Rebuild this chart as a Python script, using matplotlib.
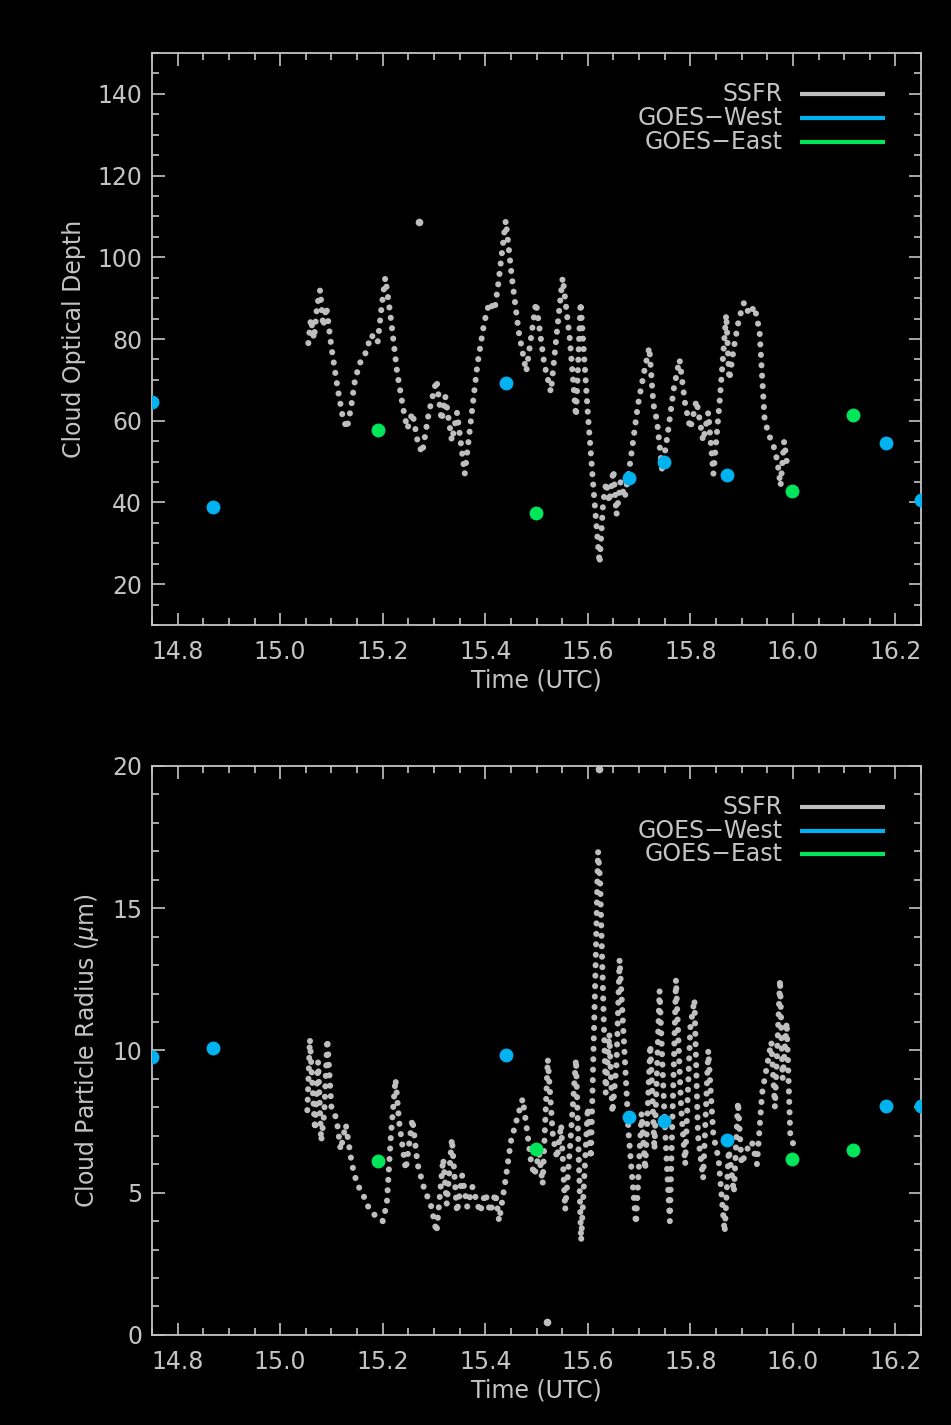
import numpy as np
import matplotlib
matplotlib.use('Agg')
import matplotlib.pyplot as plt
from matplotlib.ticker import MultipleLocator, FormatStrFormatter

# SSFR 光学厚度 (转折点, 时间 UTC 小时)
ssfr_time_tau = [15.055, 15.060, 15.066, 15.072, 15.078, 15.084, 15.090, 15.100, 15.112, 15.122,
                 15.130, 15.138, 15.146, 15.155, 15.165, 15.178, 15.190, 15.198, 15.205, 15.215,
                 15.228, 15.240, 15.248, 15.258, 15.268, 15.277, 15.290, 15.305, 15.315, 15.322,
                 15.335, 15.345, 15.360, 15.372, 15.385, 15.398, 15.408, 15.418, 15.425, 15.440,
                 15.452, 15.465, 15.480, 15.499, 15.515, 15.528, 15.540, 15.551, 15.565, 15.577,
                 15.586, 15.600, 15.612, 15.623, 15.630, 15.636, 15.642, 15.650, 15.656, 15.664,
                 15.672, 15.683, 15.698, 15.710, 15.720, 15.728, 15.735, 15.745, 15.755, 15.768,
                 15.779, 15.790, 15.800, 15.812, 15.825, 15.835, 15.845, 15.858, 15.870, 15.876,
                 15.885, 15.895, 15.905, 15.915, 15.925, 15.935, 15.945, 15.955, 15.962, 15.970,
                 15.976, 15.983, 15.990]
ssfr_tau = [79, 85, 80, 88, 92, 83, 88, 78, 68, 61,
            58, 63, 70, 74, 76, 81, 79, 88, 95, 86,
            72, 63, 58, 62, 55, 52, 62, 70, 60, 66,
            55, 62, 47, 60, 74, 84, 89, 87, 93, 109,
            95, 82, 72, 89, 74, 67, 82, 95, 80, 61,
            89, 62, 42, 25, 40, 45, 40, 48, 37, 45,
            41, 50, 64, 72, 78, 64, 60, 48, 56, 68,
            75, 64, 58, 65, 55, 62, 47, 66, 86, 70,
            78, 85, 89, 86, 88, 82, 60, 56, 54, 50,
            44, 55, 48]
ssfr_out_time_tau = [15.271]
ssfr_out_tau = [108.6]

# SSFR 粒子半径
ssfr_time_reff = [15.053, 15.058, 15.063, 15.068, 15.074, 15.080, 15.086, 15.092, 15.100, 15.110,
                  15.118, 15.128, 15.140, 15.150, 15.160, 15.172, 15.185, 15.200, 15.208, 15.216,
                  15.225, 15.232, 15.245, 15.258, 15.268, 15.280, 15.295, 15.305, 15.312, 15.318,
                  15.325, 15.335, 15.345, 15.355, 15.365, 15.375, 15.390, 15.400, 15.410, 15.420,
                  15.427, 15.440, 15.450, 15.462, 15.473, 15.480, 15.490, 15.496, 15.505, 15.512,
                  15.522, 15.532, 15.540, 15.548, 15.556, 15.565, 15.577, 15.587, 15.600, 15.606,
                  15.615, 15.620, 15.624, 15.628, 15.635, 15.642, 15.648, 15.656, 15.662, 15.670,
                  15.680, 15.694, 15.705, 15.712, 15.722, 15.730, 15.740, 15.750, 15.760, 15.772,
                  15.782, 15.790, 15.800, 15.808, 15.815, 15.825, 15.835, 15.845, 15.855, 15.867,
                  15.875, 15.885, 15.893, 15.900, 15.910, 15.920, 15.930, 15.940, 15.950, 15.958,
                  15.965, 15.975, 15.980, 15.988, 15.995, 16.005]
ssfr_reff = [7.9, 10.4, 8.8, 7.2, 9.6, 6.8, 7.8, 10.4, 8.0, 7.6,
             6.5, 7.4, 6.0, 5.3, 5.0, 4.5, 4.2, 4.0, 4.6, 7.0,
             9.0, 7.5, 5.8, 7.6, 6.0, 5.2, 4.5, 3.6, 5.0, 6.2,
             4.6, 6.9, 4.3, 5.6, 4.5, 5.2, 4.3, 5.0, 4.3, 5.0,
             4.0, 5.5, 6.8, 7.6, 8.3, 7.4, 6.0, 5.6, 6.4, 5.3,
             9.7, 7.0, 6.2, 7.4, 4.4, 6.5, 9.7, 3.3, 8.0, 6.2,
             12.8, 17.0, 16.0, 13.2, 8.5, 10.6, 7.8, 9.5, 13.2, 10.5,
             7.0, 3.9, 7.8, 5.8, 10.2, 6.5, 12.1, 7.5, 4.0, 12.5,
             8.0, 6.0, 10.8, 11.8, 7.0, 5.5, 10.0, 7.0, 6.2, 3.6,
             6.5, 5.0, 8.2, 6.0, 6.5, 6.8, 6.0, 8.5, 9.5, 10.3,
             8.0, 12.5, 9.0, 11.0, 7.0, 6.5]
ssfr_out_time_reff = [15.622, 15.520]
ssfr_out_reff = [19.9, 0.46]

# GOES 卫星反演
goes_w_time = [14.750, 14.869, 15.440, 15.680, 15.749, 15.872, 16.181, 16.250]
goes_w_tau = [64.7, 39.0, 69.3, 46.1, 50.0, 46.6, 54.6, 40.5]
goes_w_reff = [9.77, 10.09, 9.84, 7.66, 7.52, 6.85, 8.05, 8.05]
goes_e_time = [15.190, 15.499, 15.999, 16.118]
goes_e_tau = [57.8, 37.5, 42.9, 61.5]
goes_e_reff = [6.12, 6.54, 6.19, 6.50]

legend_names = ['SSFR', 'GOES\u2212West', 'GOES\u2212East']

plt.rcParams['font.family'] = ['DejaVu Sans']
plt.rcParams['mathtext.fontset'] = 'dejavusans'

fg = '#c4c4c4'
c_ssfr = '#bebebe'
c_west = '#00b2f0'
c_east = '#00e65a'
fsize = 17


def panel(ax, t, v, t_out, v_out, w, e, ylim, ymaj, ymin, ylabel):

    # SSFR 点列 (虚线样式画成圆点)
    ax.plot(t, v, color=c_ssfr, lw=4.4, linestyle=(0, (0.01, 1.7)),
            dash_capstyle='round', zorder=2)
    ax.plot(t_out, v_out, 'o', color=c_ssfr, ms=5.5, mew=0, zorder=2)

    # GOES
    ax.plot(goes_w_time, w, 'o', color=c_west, ms=10, mew=0, zorder=3)
    ax.plot(goes_e_time, e, 'o', color=c_east, ms=10, mew=0, zorder=3)

    ax.set_xlim(14.75, 16.25)
    ax.set_ylim(*ylim)
    ax.set_facecolor('black')

    ax.xaxis.set_major_locator(MultipleLocator(0.2))
    ax.xaxis.set_minor_locator(MultipleLocator(0.05))
    ax.xaxis.set_major_formatter(FormatStrFormatter('%.1f'))
    ax.yaxis.set_major_locator(MultipleLocator(ymaj))
    ax.yaxis.set_minor_locator(MultipleLocator(ymin))

    ax.tick_params(which='both', direction='in', top=True, right=True,
                   colors=fg, labelsize=fsize, width=1.2)
    ax.tick_params(which='major', length=9)
    ax.tick_params(which='minor', length=5)
    ax.tick_params(axis='x', pad=11)
    ax.tick_params(axis='y', pad=7)
    for s in ax.spines.values():
        s.set_color(fg)
        s.set_linewidth(1.3)

    ax.set_xlabel('Time (UTC)', color=fg, fontsize=fsize, labelpad=3)
    ax.set_ylabel(ylabel, color=fg, fontsize=fsize, labelpad=8)

    # 图例: 文字右对齐, 线段在右
    rows = [0.928, 0.886, 0.845]
    for name, col, y in zip(legend_names, [c_ssfr, c_west, c_east], rows):
        ax.text(0.82, y, name, transform=ax.transAxes, ha='right', va='center',
                color=fg, fontsize=fsize)
        ax.plot([0.843, 0.953], [y, y], transform=ax.transAxes, color=col, lw=3,
                solid_capstyle='butt')


fig = plt.figure(figsize=(9.51, 14.25), dpi=100, facecolor='black')

ax1 = fig.add_axes([0.1598, 0.5614, 0.8087, 0.4014])
panel(ax1, ssfr_time_tau, ssfr_tau, ssfr_out_time_tau, ssfr_out_tau,
      goes_w_tau, goes_e_tau, (10, 150), 20, 5, 'Cloud Optical Depth')

ax2 = fig.add_axes([0.1598, 0.0632, 0.8087, 0.3993])
panel(ax2, ssfr_time_reff, ssfr_reff, ssfr_out_time_reff, ssfr_out_reff,
      goes_w_reff, goes_e_reff, (0, 20), 5, 1, r'Cloud Particle Radius ($\mu$m)')

plt.savefig('out.png', dpi=100, facecolor='black')
